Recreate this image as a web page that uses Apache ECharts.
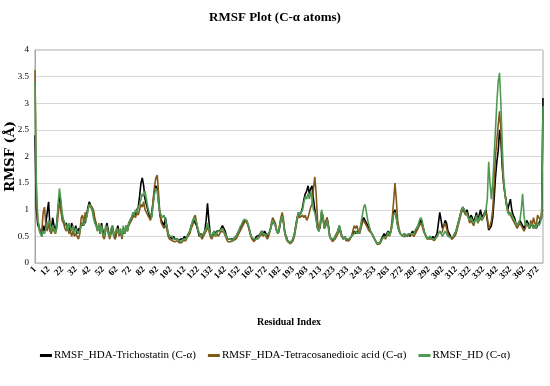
<!DOCTYPE html>
<html>
<head>
<meta charset="utf-8">
<script src="https://cdn.jsdelivr.net/npm/echarts@6/dist/echarts.min.js"></script>
<style>html,body{margin:0;padding:0;background:#fff}#c{width:550px;height:386px}</style>
</head>
<body>
<div id="c"></div>
<script>
const tickLabels = ['1','12','22','32','42','52','62','72','82','92','102','112','122','132','142','152','162','172','182','193','203','213','223','233','243','253','263','272','282','292','302','312','322','332','342','352','362','372'];
const seriesNames = ['RMSF_HDA-Trichostatin (C-α)','RMSF_HDA-Tetracosanedioic acid (C-α)','RMSF_HD (C-α)'];
const trichostatin = [
2.4,1.0,0.72,0.65,0.6,0.5,0.7,0.6,0.75,0.95,
1.15,0.7,0.6,0.85,0.7,0.6,0.75,1.0,1.25,1.05,
0.85,0.8,0.7,0.75,0.65,0.7,0.6,0.75,0.65,0.6,
0.7,0.55,0.65,0.6,0.75,0.7,0.8,0.75,0.9,1.05,
1.15,1.12,1.0,0.95,0.8,0.7,0.65,0.7,0.55,0.75,
0.6,0.5,0.65,0.75,0.6,0.5,0.6,0.7,0.55,0.45,
0.6,0.7,0.55,0.6,0.5,0.65,0.55,0.7,0.6,0.75,
0.8,0.85,0.9,0.95,0.9,1.0,1.05,1.25,1.5,1.6,
1.45,1.2,1.1,1.0,0.9,0.85,0.95,1.15,1.35,1.45,
1.4,1.15,0.9,0.8,0.75,0.7,0.85,0.7,0.55,0.5,
0.5,0.45,0.5,0.45,0.42,0.45,0.4,0.45,0.42,0.45,
0.5,0.45,0.5,0.55,0.6,0.7,0.75,0.8,0.78,0.7,
0.6,0.5,0.55,0.5,0.55,0.6,0.8,1.12,0.8,0.55,
0.5,0.55,0.6,0.55,0.6,0.58,0.6,0.65,0.7,0.68,
0.6,0.5,0.45,0.42,0.45,0.42,0.45,0.48,0.5,0.55,
0.6,0.65,0.7,0.75,0.8,0.82,0.78,0.7,0.6,0.5,
0.45,0.42,0.45,0.5,0.48,0.52,0.55,0.6,0.55,0.6,
0.55,0.5,0.55,0.6,0.7,0.8,0.75,0.7,0.6,0.55,
0.65,0.8,0.9,0.75,0.55,0.5,0.42,0.4,0.38,0.4,
0.45,0.55,0.7,0.85,0.95,0.9,0.95,1.05,1.2,1.3,
1.35,1.45,1.3,1.4,1.45,1.2,1.0,0.85,0.65,0.6,
0.7,0.95,0.85,0.65,0.7,0.85,0.7,0.5,0.45,0.42,
0.45,0.5,0.55,0.6,0.7,0.6,0.5,0.45,0.5,0.45,
0.48,0.42,0.45,0.5,0.55,0.6,0.55,0.6,0.55,0.6,
0.7,0.8,0.85,0.8,0.75,0.7,0.65,0.6,0.55,0.5,
0.45,0.4,0.36,0.35,0.38,0.45,0.5,0.55,0.5,0.55,
0.6,0.55,0.6,0.75,0.95,1.0,0.85,0.7,0.6,0.55,
0.55,0.5,0.55,0.52,0.5,0.55,0.5,0.55,0.6,0.55,
0.6,0.65,0.7,0.75,0.8,0.75,0.65,0.55,0.5,0.45,
0.48,0.5,0.45,0.5,0.45,0.5,0.55,0.75,0.95,0.8,
0.65,0.7,0.8,0.75,0.6,0.55,0.5,0.45,0.5,0.55,
0.6,0.7,0.8,0.9,1.0,1.05,1.0,0.95,1.0,0.9,
0.8,0.9,0.85,0.75,0.85,0.95,0.8,0.9,1.0,0.85,
0.9,0.95,1.0,0.8,0.62,0.6,0.7,0.85,1.2,1.6,
1.9,2.1,2.5,2.3,1.8,1.5,1.3,1.15,1.0,1.1,
1.2,1.0,0.9,0.85,0.75,0.7,0.75,0.8,0.75,0.7,
0.65,0.7,0.8,0.75,0.65,0.7,0.75,0.65,0.7,0.65,
0.7,0.72,0.8,0.85,3.1
];
const tetracosanedioic = [
3.62,1.3,0.8,0.7,0.55,0.6,0.95,1.05,0.7,0.6,
0.75,0.6,0.55,0.65,0.6,0.55,0.65,0.9,1.15,1.0,
0.8,0.75,0.65,0.6,0.7,0.55,0.6,0.5,0.6,0.5,
0.55,0.5,0.45,0.55,0.85,0.9,0.75,0.95,0.85,1.0,
1.1,1.1,1.05,1.0,0.85,0.75,0.6,0.7,0.6,0.7,
0.5,0.45,0.6,0.7,0.55,0.45,0.55,0.65,0.5,0.45,
0.55,0.65,0.5,0.6,0.45,0.6,0.55,0.65,0.6,0.7,
0.75,0.8,0.85,0.9,0.85,0.95,0.9,1.0,1.1,1.05,
1.15,1.0,0.95,0.9,0.85,0.8,0.9,1.2,1.45,1.6,
1.65,1.3,0.9,0.75,0.7,0.65,0.7,0.65,0.5,0.45,
0.45,0.42,0.45,0.4,0.4,0.42,0.38,0.4,0.38,0.42,
0.45,0.42,0.48,0.5,0.55,0.65,0.7,0.85,0.9,0.75,
0.6,0.55,0.5,0.45,0.5,0.55,0.6,0.7,0.6,0.5,
0.45,0.5,0.55,0.5,0.55,0.5,0.55,0.6,0.6,0.58,
0.55,0.45,0.4,0.38,0.4,0.38,0.42,0.45,0.45,0.5,
0.55,0.6,0.65,0.7,0.75,0.8,0.75,0.7,0.6,0.5,
0.45,0.4,0.42,0.45,0.42,0.48,0.5,0.55,0.5,0.55,
0.5,0.45,0.5,0.6,0.75,0.85,0.8,0.75,0.6,0.55,
0.7,0.85,0.95,0.8,0.55,0.45,0.4,0.38,0.36,0.38,
0.42,0.5,0.65,0.8,0.9,0.85,0.85,0.9,0.85,0.9,
0.8,0.85,0.95,1.05,1.1,1.4,1.62,1.3,0.8,0.6,
0.7,0.95,0.9,0.7,0.7,0.85,0.7,0.5,0.45,0.4,
0.42,0.45,0.5,0.55,0.65,0.55,0.48,0.45,0.48,0.42,
0.45,0.42,0.45,0.5,0.6,0.7,0.65,0.7,0.6,0.55,
0.65,0.75,0.8,0.75,0.7,0.65,0.6,0.6,0.55,0.5,
0.45,0.4,0.35,0.34,0.36,0.42,0.45,0.5,0.45,0.5,
0.55,0.5,0.6,0.85,1.15,1.5,1.2,0.8,0.65,0.55,
0.55,0.5,0.52,0.5,0.48,0.52,0.5,0.55,0.55,0.5,
0.55,0.6,0.65,0.7,0.75,0.7,0.6,0.55,0.48,0.45,
0.45,0.48,0.45,0.48,0.42,0.45,0.5,0.55,0.6,0.55,
0.6,0.7,0.75,0.65,0.55,0.5,0.5,0.45,0.48,0.5,
0.55,0.65,0.75,0.85,0.95,1.0,0.95,0.9,0.95,0.85,
0.75,0.8,0.8,0.7,0.8,0.85,0.75,0.8,0.85,0.8,
0.85,0.9,0.95,0.85,0.65,0.7,0.8,1.0,1.5,2.0,
2.3,2.6,2.85,2.5,1.9,1.5,1.3,1.1,1.0,0.95,
0.9,0.85,0.8,0.8,0.7,0.65,0.7,0.75,0.7,0.65,
0.6,0.65,0.75,0.7,0.65,0.8,0.7,0.85,0.75,0.7,
0.9,0.85,0.8,0.95,1.0
];
const hdApo = [
3.4,1.5,0.85,0.62,0.55,0.5,0.6,0.55,0.65,0.7,
0.8,0.75,0.6,0.7,0.65,0.55,0.7,1.1,1.4,1.2,
0.95,0.8,0.75,0.7,0.6,0.75,0.65,0.6,0.7,0.55,
0.65,0.6,0.55,0.6,0.7,0.75,0.7,0.8,0.85,1.0,
1.1,1.05,1.0,0.85,0.75,0.7,0.6,0.75,0.55,0.7,
0.55,0.5,0.7,0.65,0.55,0.5,0.65,0.7,0.5,0.5,
0.65,0.6,0.55,0.65,0.5,0.7,0.55,0.7,0.6,0.75,
0.8,0.85,0.95,0.9,1.0,0.95,1.05,1.1,1.2,1.3,
1.25,1.35,1.2,1.05,0.95,0.9,0.85,1.1,1.3,1.4,
1.35,1.1,0.95,0.9,0.85,0.9,0.8,0.7,0.55,0.5,
0.48,0.5,0.45,0.47,0.45,0.48,0.42,0.45,0.4,0.45,
0.48,0.45,0.5,0.55,0.6,0.7,0.8,0.85,0.8,0.75,
0.65,0.55,0.5,0.5,0.55,0.6,0.65,0.75,0.65,0.55,
0.5,0.55,0.6,0.5,0.58,0.55,0.6,0.62,0.65,0.6,
0.58,0.5,0.45,0.42,0.45,0.4,0.45,0.48,0.5,0.55,
0.6,0.68,0.72,0.78,0.82,0.85,0.8,0.72,0.62,0.52,
0.47,0.45,0.45,0.48,0.45,0.5,0.55,0.6,0.55,0.58,
0.52,0.5,0.55,0.6,0.7,0.8,0.78,0.7,0.6,0.55,
0.68,0.8,0.88,0.75,0.55,0.48,0.42,0.4,0.38,0.4,
0.45,0.55,0.7,0.85,0.95,0.9,0.95,1.0,1.15,1.25,
1.2,1.3,1.2,1.35,1.2,1.0,0.95,0.8,0.65,0.6,
0.75,1.0,0.85,0.65,0.7,0.8,0.65,0.5,0.45,0.42,
0.45,0.5,0.55,0.6,0.7,0.6,0.5,0.45,0.5,0.45,
0.48,0.45,0.45,0.5,0.5,0.55,0.6,0.58,0.55,0.6,
0.75,0.9,1.05,1.1,0.95,0.8,0.7,0.6,0.55,0.5,
0.45,0.4,0.36,0.35,0.38,0.42,0.48,0.5,0.48,0.52,
0.58,0.52,0.58,0.7,0.9,0.95,0.85,0.7,0.6,0.55,
0.55,0.5,0.55,0.5,0.5,0.55,0.52,0.55,0.58,0.55,
0.62,0.65,0.7,0.8,0.85,0.8,0.65,0.55,0.5,0.45,
0.48,0.5,0.45,0.48,0.45,0.48,0.5,0.55,0.6,0.55,
0.5,0.55,0.6,0.55,0.5,0.5,0.48,0.45,0.5,0.55,
0.6,0.7,0.8,0.9,1.0,1.05,1.0,0.95,0.95,0.85,
0.8,0.85,0.8,0.75,0.8,0.9,0.75,0.85,0.9,0.8,
0.85,0.95,1.0,1.2,1.9,1.5,1.2,1.5,2.0,2.5,
3.0,3.4,3.57,3.0,2.2,1.6,1.3,1.1,0.95,0.9,
0.95,0.9,0.85,0.8,0.75,0.7,0.75,0.8,1.0,1.3,
0.9,0.7,0.75,0.7,0.65,0.75,0.7,0.65,0.7,0.65,
0.75,0.7,0.75,0.9,2.95
];
const colors = ['#000000', '#80591a', '#4f9a52'];

const categories = trichostatin.map((_, i) => String(i));
const serif = '"Liberation Serif", "Times New Roman", serif';

const chart = echarts.init(document.getElementById('c'), null, {renderer: 'canvas'});
chart.setOption({
  animation: false,
  backgroundColor: '#ffffff',
  title: {
    text: 'RMSF Plot (C-α atoms)',
    left: 'center', top: 6,
    textStyle: {fontFamily: serif, fontWeight: 'bold', fontSize: 13, color: '#000'}
  },
  grid: {left: 35, right: 7, top: 50, bottom: 123, outerBoundsMode: 'none', containLabel: false,
         show: true, borderColor: '#a6a6a6', borderWidth: 1},
  legend: {
    bottom: 20, left: 'center',
    itemWidth: 12, itemHeight: 3, itemGap: 12, icon: 'rect',
    data: seriesNames,
    textStyle: {fontFamily: serif, fontSize: 11, color: '#000', padding: [0, 0, 0, -3]}
  },
  xAxis: {
    type: 'category',
    data: categories,
    boundaryGap: false,
    name: 'Residual Index', nameLocation: 'middle', nameGap: 54, nameMoveOverlap: false,
    nameTextStyle: {fontFamily: serif, fontWeight: 'bold', fontSize: 10, color: '#000'},
    axisLine: {lineStyle: {color: '#bfbfbf'}},
    axisTick: {show: false},
    axisLabel: {
      interval: (i) => i % 10 === 0,
      formatter: (v, i) => tickLabels[Math.round(i / 10)] || '',
      rotate: 45, margin: 5,
      fontFamily: serif, fontWeight: 'bold', fontSize: 9, color: '#000'
    },
    splitLine: {show: false}
  },
  yAxis: {
    type: 'value', min: 0, max: 4, interval: 0.5,
    name: 'RMSF (Å)', nameLocation: 'middle', nameGap: 18, nameMoveOverlap: false,
    nameTextStyle: {fontFamily: '"DejaVu Serif", serif', fontWeight: 'bold', fontSize: 13, color: '#000'},
    axisLine: {show: true, lineStyle: {color: '#a6a6a6'}},
    axisTick: {show: false},
    axisLabel: {fontFamily: serif, fontSize: 9, color: '#000', margin: 6},
    splitLine: {lineStyle: {color: '#d9d9d9'}}
  },
  series: [
    {name: seriesNames[0], type: 'line', data: trichostatin, showSymbol: false, symbol: 'none', lineStyle: {width: 1.6, color: colors[0]}, itemStyle: {color: colors[0]}},
    {name: seriesNames[1], type: 'line', data: tetracosanedioic, showSymbol: false, symbol: 'none', lineStyle: {width: 1.6, color: colors[1]}, itemStyle: {color: colors[1]}},
    {name: seriesNames[2], type: 'line', data: hdApo, showSymbol: false, symbol: 'none', lineStyle: {width: 1.6, color: colors[2]}, itemStyle: {color: colors[2]}}
  ]
});
</script>
</body>
</html>
